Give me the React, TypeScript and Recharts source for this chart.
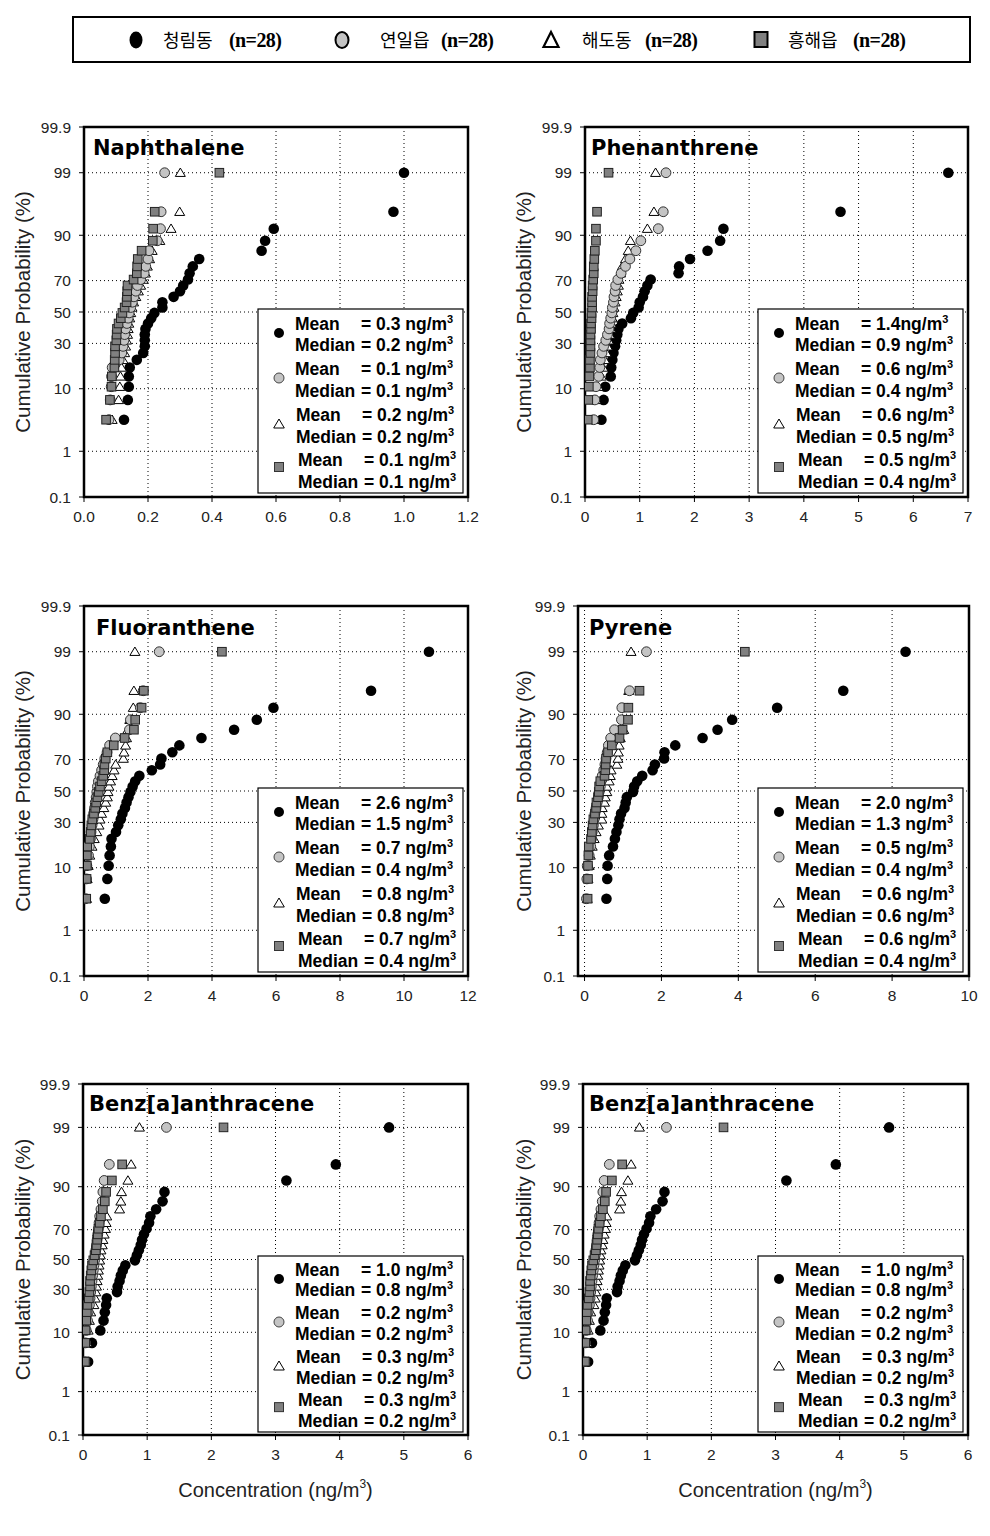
import React from 'react';
import { ScatterChart, Scatter, XAxis, YAxis, CartesianGrid, ReferenceArea } from 'recharts';

// cumulative probability (%) of each ranked observation (n = 28)
const PROB = [3.6, 7.1, 10.6, 14.1, 17.7, 21.2, 24.7, 28.3, 31.8, 35.3, 38.9, 42.4, 45.9, 49.4, 53.0, 56.5, 60.0, 63.6, 67.1, 70.6, 74.1, 77.7, 81.2, 84.7, 88.3, 91.8, 95.3, 99.0];

const Y_TICKS = [0.1, 1, 10, 30, 50, 70, 90, 99, 99.9];
const Y_TICK_LABELS = ['0.1', '1', '10', '30', '50', '70', '90', '99', '99.9'];

const SITES = ['청림동', '연일읍', '해도동', '흥해읍'];
const N_LABEL = '(n=28)';

// Naphthalene
const NAP_CR = [0.125, 0.137, 0.14, 0.14, 0.143, 0.165, 0.185, 0.19, 0.19, 0.19, 0.192, 0.2, 0.21, 0.22, 0.245, 0.245, 0.28, 0.3, 0.31, 0.325, 0.33, 0.34, 0.36, 0.555, 0.566, 0.593, 0.967, 1.0];
const NAP_YI = [0.078, 0.082, 0.085, 0.086, 0.088, 0.11, 0.118, 0.122, 0.125, 0.127, 0.13, 0.134, 0.138, 0.141, 0.146, 0.151, 0.156, 0.162, 0.167, 0.177, 0.188, 0.193, 0.2, 0.203, 0.229, 0.239, 0.241, 0.252];
const NAP_HD = [0.088, 0.108, 0.112, 0.114, 0.117, 0.122, 0.127, 0.13, 0.133, 0.136, 0.138, 0.14, 0.143, 0.146, 0.15, 0.155, 0.162, 0.17, 0.177, 0.185, 0.192, 0.198, 0.205, 0.213, 0.237, 0.272, 0.299, 0.301];
const NAP_HH = [0.069, 0.081, 0.086, 0.087, 0.095, 0.096, 0.097, 0.097, 0.101, 0.102, 0.103, 0.108, 0.115, 0.12, 0.127, 0.133, 0.134, 0.135, 0.136, 0.155, 0.165, 0.166, 0.168, 0.18, 0.215, 0.216, 0.221, 0.423];
const NAP_MEAN = ['0.3 ng/m', '0.1 ng/m', '0.2 ng/m', '0.1 ng/m'];
const NAP_MEDIAN = ['0.2 ng/m', '0.1 ng/m', '0.2 ng/m', '0.1 ng/m'];
const NAP_XTICKS = [0, 0.2, 0.4, 0.6, 0.8, 1.0, 1.2];

// Phenanthrene
const PHE_CR = [0.3, 0.34, 0.37, 0.47, 0.48, 0.5, 0.52, 0.55, 0.57, 0.59, 0.61, 0.68, 0.84, 0.88, 0.98, 1.0, 1.06, 1.09, 1.14, 1.2, 1.71, 1.72, 1.92, 2.24, 2.47, 2.53, 4.67, 6.64];
const PHE_YI = [0.16, 0.18, 0.2, 0.25, 0.27, 0.28, 0.31, 0.34, 0.38, 0.41, 0.44, 0.45, 0.47, 0.49, 0.5, 0.52, 0.53, 0.55, 0.56, 0.6, 0.66, 0.74, 0.82, 0.93, 1.02, 1.34, 1.43, 1.48];
const PHE_HD = [0.17, 0.2, 0.24, 0.3, 0.33, 0.36, 0.39, 0.41, 0.43, 0.45, 0.47, 0.48, 0.5, 0.51, 0.53, 0.55, 0.57, 0.59, 0.61, 0.62, 0.65, 0.68, 0.74, 0.79, 0.83, 1.14, 1.26, 1.29];
const PHE_HH = [0.05, 0.06, 0.07, 0.08, 0.09, 0.09, 0.1, 0.1, 0.1, 0.1, 0.11, 0.11, 0.12, 0.12, 0.13, 0.13, 0.13, 0.14, 0.14, 0.15, 0.16, 0.16, 0.17, 0.18, 0.2, 0.2, 0.22, 0.43];
const PHE_MEAN = ['1.4ng/m', '0.6 ng/m', '0.6 ng/m', '0.5 ng/m'];
const PHE_MEDIAN = ['0.9 ng/m', '0.4 ng/m', '0.5 ng/m', '0.4 ng/m'];
const PHE_XTICKS = [0, 1, 2, 3, 4, 5, 6, 7];

// Fluoranthene
const FLU_CR = [0.65, 0.73, 0.77, 0.8, 0.84, 0.86, 1.0, 1.07, 1.15, 1.2, 1.28, 1.33, 1.39, 1.45, 1.52, 1.6, 1.73, 2.12, 2.38, 2.42, 2.76, 2.98, 3.67, 4.69, 5.4, 5.92, 8.97, 10.78];
const FLU_YI = [0.05, 0.08, 0.09, 0.14, 0.17, 0.2, 0.22, 0.25, 0.28, 0.3, 0.33, 0.35, 0.38, 0.4, 0.42, 0.45, 0.5, 0.55, 0.6, 0.65, 0.72, 0.8, 0.98, 1.42, 1.45, 1.76, 1.85, 2.35];
const FLU_HD = [0.08, 0.1, 0.13, 0.18, 0.25, 0.32, 0.4, 0.47, 0.5, 0.55, 0.62, 0.68, 0.73, 0.75, 0.78, 0.83, 0.88, 0.94, 0.99, 1.23, 1.25, 1.3, 1.33, 1.37, 1.43, 1.54, 1.56, 1.59];
const FLU_HH = [0.07, 0.08, 0.09, 0.09, 0.1, 0.18, 0.21, 0.23, 0.26, 0.31, 0.35, 0.38, 0.42, 0.46, 0.5, 0.55, 0.6, 0.63, 0.64, 0.68, 0.73, 0.93, 1.27, 1.56, 1.6, 1.8, 1.87, 4.31];
const FLU_MEAN = ['2.6 ng/m', '0.7 ng/m', '0.8 ng/m', '0.7 ng/m'];
const FLU_MEDIAN = ['1.5 ng/m', '0.4 ng/m', '0.8 ng/m', '0.4 ng/m'];
const FLU_XTICKS = [0, 2, 4, 6, 8, 10, 12];

// Pyrene
const PYR_CR = [0.57, 0.59, 0.6, 0.64, 0.74, 0.79, 0.83, 0.88, 0.91, 0.95, 1.04, 1.07, 1.1, 1.26, 1.29, 1.37, 1.5, 1.77, 1.83, 2.07, 2.08, 2.36, 3.07, 3.46, 3.84, 5.01, 6.73, 8.35];
const PYR_YI = [0.05, 0.06, 0.07, 0.12, 0.16, 0.18, 0.2, 0.23, 0.25, 0.27, 0.3, 0.33, 0.36, 0.38, 0.41, 0.43, 0.46, 0.5, 0.53, 0.56, 0.59, 0.62, 0.68, 0.78, 0.96, 0.97, 1.17, 1.61];
const PYR_HD = [0.07, 0.09, 0.12, 0.15, 0.2, 0.25, 0.3, 0.36, 0.45, 0.45, 0.46, 0.52, 0.54, 0.58, 0.58, 0.64, 0.67, 0.69, 0.84, 0.87, 0.88, 0.9, 0.93, 1.02, 1.1, 1.12, 1.15, 1.21];
const PYR_HH = [0.08, 0.09, 0.09, 0.1, 0.11, 0.17, 0.19, 0.21, 0.23, 0.27, 0.3, 0.31, 0.35, 0.37, 0.38, 0.41, 0.52, 0.54, 0.55, 0.56, 0.61, 0.71, 0.91, 0.99, 1.13, 1.14, 1.43, 4.17];
const PYR_MEAN = ['2.0 ng/m', '0.5 ng/m', '0.6 ng/m', '0.6 ng/m'];
const PYR_MEDIAN = ['1.3 ng/m', '0.4 ng/m', '0.6 ng/m', '0.4 ng/m'];
const PYR_XTICKS = [0, 2, 4, 6, 8, 10];

// Benz[a]anthracene
const BAA_CR = [0.08, 0.14, 0.27, 0.32, 0.34, 0.36, 0.37, 0.53, 0.54, 0.57, 0.59, 0.62, 0.66, 0.81, 0.84, 0.87, 0.9, 0.92, 0.95, 0.99, 1.03, 1.05, 1.14, 1.24, 1.27, 3.17, 3.94, 4.77];
const BAA_YI = [0.03, 0.04, 0.05, 0.07, 0.08, 0.1, 0.11, 0.12, 0.13, 0.14, 0.15, 0.16, 0.17, 0.18, 0.19, 0.2, 0.21, 0.22, 0.23, 0.24, 0.25, 0.26, 0.28, 0.3, 0.31, 0.33, 0.41, 1.3];
const BAA_HD = [0.04, 0.06, 0.08, 0.1, 0.12, 0.17, 0.19, 0.2, 0.21, 0.22, 0.23, 0.24, 0.25, 0.26, 0.27, 0.28, 0.3, 0.31, 0.33, 0.35, 0.36, 0.37, 0.57, 0.59, 0.6, 0.7, 0.75, 0.88];
const BAA_HH = [0.03, 0.035, 0.04, 0.05, 0.06, 0.07, 0.09, 0.1, 0.11, 0.11, 0.12, 0.13, 0.14, 0.16, 0.18, 0.2, 0.21, 0.22, 0.23, 0.24, 0.26, 0.28, 0.31, 0.34, 0.36, 0.45, 0.61, 2.19];
const BAA_MEAN = ['1.0 ng/m', '0.2 ng/m', '0.3 ng/m', '0.3 ng/m'];
const BAA_MEDIAN = ['0.8 ng/m', '0.2 ng/m', '0.2 ng/m', '0.2 ng/m'];
const BAA_XTICKS = [0, 1, 2, 3, 4, 5, 6];

// inverse standard normal CDF (probability-scale transform)
function probit(p: number): number {
  const a = [-3.969683028665376e1, 2.209460984245205e2, -2.759285104469687e2, 1.38357751867269e2, -3.066479806614716e1, 2.506628277459239];
  const b = [-5.447609879822406e1, 1.615858368580409e2, -1.556989798598866e2, 6.680131188771972e1, -1.328068155288572e1];
  const c = [-7.784894002430293e-3, -3.223964580411365e-1, -2.400758277161838, -2.549671303460123, 4.374664141464968, 2.938163982698783];
  const d = [7.784695709041462e-3, 3.224671290700398e-1, 2.445134137142996, 3.754408661907416];
  const plow = 0.02425;
  if (p < plow) {
    const q = Math.sqrt(-2 * Math.log(p));
    return (((((c[0] * q + c[1]) * q + c[2]) * q + c[3]) * q + c[4]) * q + c[5]) / ((((d[0] * q + d[1]) * q + d[2]) * q + d[3]) * q + 1);
  }
  if (p <= 1 - plow) {
    const q = p - 0.5;
    const r = q * q;
    return ((((((a[0] * r + a[1]) * r + a[2]) * r + a[3]) * r + a[4]) * r + a[5]) * q) / (((((b[0] * r + b[1]) * r + b[2]) * r + b[3]) * r + b[4]) * r + 1);
  }
  const q = Math.sqrt(-2 * Math.log(1 - p));
  return -(((((c[0] * q + c[1]) * q + c[2]) * q + c[3]) * q + c[4]) * q + c[5]) / ((((d[0] * q + d[1]) * q + d[2]) * q + d[3]) * q + 1);
}

const Y_TICK_Z = Y_TICKS.map((t) => probit(t / 100));
const Z_MIN = Y_TICK_Z[0];
const Z_MAX = Y_TICK_Z[Y_TICK_Z.length - 1];

function fmtY(v: number): string {
  let best = 0;
  for (let i = 0; i < Y_TICK_Z.length; i++) {
    if (Math.abs(Y_TICK_Z[i] - v) < Math.abs(Y_TICK_Z[best] - v)) best = i;
  }
  return Y_TICK_LABELS[best];
}

const SANS = '"Liberation Sans", Arial, Helvetica, sans-serif';

// marker shapes
const ShapeBlack = (p: any) => <circle cx={p.cx} cy={p.cy} r={5.3} fill="#000" />;
const ShapeGray = (p: any) => <circle cx={p.cx} cy={p.cy} r={4.9} fill="#c4c4c4" stroke="#333" strokeWidth={1} />;
const ShapeTri = (p: any) => (
  <path d={`M${p.cx},${p.cy - 4.7} L${p.cx + 5},${p.cy + 3.7} L${p.cx - 5},${p.cy + 3.7} Z`} fill="#fff" stroke="#000" strokeWidth={1} />
);
const ShapeSq = (p: any) => <rect x={p.cx - 4.3} y={p.cy - 4.3} width={8.6} height={8.6} fill="#808080" stroke="#222" strokeWidth={1} />;

// site index -> marker shape
const SITE_SHAPES = [ShapeBlack, ShapeGray, ShapeTri, ShapeSq];
// draw order: 청림동, 해도동, 연일읍, 흥해읍
const ORDER = [0, 2, 1, 3];

type PanelCfg = {
  title: string;
  left: number;
  top: number;
  w: number;
  h: number;
  xMin: number;
  xMax: number;
  xTicks: number[];
  xFmt: (v: number) => string;
  series: number[][];
  mean: string[];
  median: string[];
  titleDx: number;
  titleDy: number;
  box: { x: number; y: number; s: number };
  col: number;
  showXLabel: boolean;
};

const fmt1 = (v: number) => v.toFixed(1);
const fmt0 = (v: number) => String(v);

const PANELS: PanelCfg[] = [
  { title: 'Naphthalene', left: 84, top: 127, w: 384, h: 370, xMin: 0, xMax: 1.2, xTicks: NAP_XTICKS, xFmt: fmt1, series: [NAP_CR, NAP_YI, NAP_HD, NAP_HH], mean: NAP_MEAN, median: NAP_MEDIAN, titleDx: 9, titleDy: 28, box: { x: 258, y: 309, s: 1 }, col: 0, showXLabel: false },
  { title: 'Phenanthrene', left: 585, top: 127, w: 383, h: 370, xMin: 0, xMax: 7, xTicks: PHE_XTICKS, xFmt: fmt0, series: [PHE_CR, PHE_YI, PHE_HD, PHE_HH], mean: PHE_MEAN, median: PHE_MEDIAN, titleDx: 6, titleDy: 28, box: { x: 758, y: 309, s: 1 }, col: 1, showXLabel: false },
  { title: 'Fluoranthene', left: 84, top: 606, w: 384, h: 370, xMin: 0, xMax: 12, xTicks: FLU_XTICKS, xFmt: fmt0, series: [FLU_CR, FLU_YI, FLU_HD, FLU_HH], mean: FLU_MEAN, median: FLU_MEDIAN, titleDx: 12, titleDy: 29, box: { x: 258, y: 788, s: 1 }, col: 0, showXLabel: false },
  { title: 'Pyrene', left: 578, top: 606, w: 391, h: 370, xMin: -0.17, xMax: 10, xTicks: PYR_XTICKS, xFmt: fmt0, series: [PYR_CR, PYR_YI, PYR_HD, PYR_HH], mean: PYR_MEAN, median: PYR_MEDIAN, titleDx: 11, titleDy: 29, box: { x: 758, y: 788, s: 1 }, col: 1, showXLabel: false },
  { title: 'Benz[a]anthracene', left: 83, top: 1084, w: 385, h: 351, xMin: 0, xMax: 6, xTicks: BAA_XTICKS, xFmt: fmt0, series: [BAA_CR, BAA_YI, BAA_HD, BAA_HH], mean: BAA_MEAN, median: BAA_MEDIAN, titleDx: 6, titleDy: 27, box: { x: 258, y: 1256, s: 176 / 184 }, col: 0, showXLabel: true },
  { title: 'Benz[a]anthracene', left: 583, top: 1084, w: 385, h: 351, xMin: 0, xMax: 6, xTicks: BAA_XTICKS, xFmt: fmt0, series: [BAA_CR, BAA_YI, BAA_HD, BAA_HH], mean: BAA_MEAN, median: BAA_MEDIAN, titleDx: 6, titleDy: 27, box: { x: 758, y: 1256, s: 176 / 184 }, col: 1, showXLabel: true },
];

const Y_LABEL_X = [22, 523];

function Panel({ p }: { p: PanelCfg }) {
  const chartW = p.w + 84 + 20;
  const chartH = p.h + 20 + 45;
  return (
    <div style={{ position: 'absolute', left: p.left - 84, top: p.top - 20, width: chartW, height: chartH }}>
      <ScatterChart width={chartW} height={chartH} margin={{ top: 20, right: 20, bottom: 15, left: 0 }}>
        <CartesianGrid stroke="#000" strokeDasharray="1 3" strokeWidth={1} />
        <XAxis
          type="number"
          dataKey="x"
          domain={[p.xMin, p.xMax]}
          ticks={p.xTicks}
          tickFormatter={p.xFmt}
          interval={0}
          height={30}
          allowDataOverflow
          axisLine={false}
          tickLine={{ stroke: '#000' }}
          tickSize={5}
          tickMargin={9}
          tick={{ fill: '#222', fontSize: 15.5, fontFamily: SANS }}
        />
        <YAxis
          type="number"
          dataKey="y"
          domain={[Z_MIN, Z_MAX]}
          ticks={Y_TICK_Z}
          tickFormatter={fmtY}
          interval={0}
          width={84}
          allowDataOverflow
          axisLine={false}
          tickLine={{ stroke: '#000' }}
          tickSize={5}
          tickMargin={8}
          tick={{ fill: '#222', fontSize: 15.5, fontFamily: SANS }}
        />
        {ORDER.map((k) => (
          <Scatter
            key={k}
            name={SITES[k]}
            data={PROB.map((pr, i) => ({ x: p.series[k][i], y: probit(pr / 100) }))}
            shape={SITE_SHAPES[k]}
            isAnimationActive={false}
          />
        ))}
        <ReferenceArea x1={p.xMin} x2={p.xMax} y1={Z_MIN} y2={Z_MAX} fill="none" fillOpacity={0} stroke="#000" strokeWidth={2.5} ifOverflow="visible" />
      </ScatterChart>
    </div>
  );
}

function StatMarker({ k, x, y }: { k: number; x: number; y: number }) {
  if (k === 0) return <circle cx={x} cy={y} r={5} fill="#000" />;
  if (k === 1) return <circle cx={x} cy={y} r={5} fill="#c4c4c4" stroke="#444" strokeWidth={1} />;
  if (k === 2) return <path d={`M${x},${y - 5} L${x + 5.3},${y + 4} L${x - 5.3},${y + 4} Z`} fill="#fff" stroke="#000" strokeWidth={1} />;
  return <rect x={x - 4.5} y={y - 4.5} width={9} height={9} fill="#808080" stroke="#333" strokeWidth={1} />;
}

const MARKER_Y = [24, 69, 115, 158];
const LINE_Y = [14, 35, 59, 81, 105, 127, 150, 172];
const GROUP_DX = [0, 0, 1, 3];

function StatsBox({ p }: { p: PanelCfg }) {
  const { x, y, s } = p.box;
  const txt = { fontFamily: SANS, fontWeight: 700, fontSize: 17.5, fill: '#000' } as const;
  return (
    <g>
      <rect x={x} y={y} width={205} height={184 * s} fill="#fff" stroke="#000" strokeWidth={1.2} />
      {[0, 1, 2, 3].map((k) => (
        <g key={k}>
          <StatMarker k={k} x={x + 21} y={y + MARKER_Y[k] * s} />
          <text x={x + 37 + GROUP_DX[k]} y={y + LINE_Y[2 * k] * s + 6.5} {...txt}>Mean</text>
          <text x={x + 103 + GROUP_DX[k]} y={y + LINE_Y[2 * k] * s + 6.5} {...txt}>
            {'= ' + p.mean[k]}
            <tspan dy={-7} fontSize={11}>3</tspan>
          </text>
          <text x={x + 37 + GROUP_DX[k]} y={y + LINE_Y[2 * k + 1] * s + 6.5} {...txt}>Median</text>
          <text x={x + 103 + GROUP_DX[k]} y={y + LINE_Y[2 * k + 1] * s + 6.5} {...txt}>
            {'= ' + p.median[k]}
            <tspan dy={-7} fontSize={11}>3</tspan>
          </text>
        </g>
      ))}
    </g>
  );
}

const LEG_MARK_X = [136, 342, 551, 761];
const LEG_SITE_X = [163, 380, 582, 788];
const LEG_N_X = [229, 441, 645, 853];

function Legend() {
  return (
    <g>
      <rect x={73} y={17} width={897} height={45} fill="#fff" stroke="#000" strokeWidth={2} />
      <ellipse cx={LEG_MARK_X[0]} cy={40} rx={6.5} ry={8.5} fill="#000" />
      <ellipse cx={LEG_MARK_X[1]} cy={40} rx={6.5} ry={8} fill="#c4c4c4" stroke="#000" strokeWidth={2} />
      <path d={`M${LEG_MARK_X[2]},${32} L${LEG_MARK_X[2] + 7.5},${47} L${LEG_MARK_X[2] - 7.5},${47} Z`} fill="#fff" stroke="#000" strokeWidth={2.2} />
      <rect x={LEG_MARK_X[3] - 6.5} y={32} width={13} height={15} fill="#808080" stroke="#000" strokeWidth={2} />
      {SITES.map((s, i) => (
        <g key={s}>
          <text x={LEG_SITE_X[i]} y={47} fontFamily='"Noto Sans CJK KR", sans-serif' fontSize={18} fill="#000">{s}</text>
          <text x={LEG_N_X[i]} y={47} fontFamily='"Liberation Serif", "Times New Roman", serif' fontWeight={700} fontSize={20} letterSpacing={-0.6} fill="#000">{N_LABEL}</text>
        </g>
      ))}
    </g>
  );
}

export default function App() {
  return (
    <div style={{ position: 'absolute', left: 0, top: 0, width: 990, height: 1536, background: '#fff', overflow: 'hidden' }}>
      {PANELS.map((p, i) => (
        <Panel key={i} p={p} />
      ))}
      <svg width={990} height={1536} style={{ position: 'absolute', left: 0, top: 0, pointerEvents: 'none' }}>
        <Legend />
        {PANELS.map((p, i) => (
          <g key={i}>
            <text x={p.left + p.titleDx} y={p.top + p.titleDy} fontFamily='"DejaVu Sans", Verdana, sans-serif' fontWeight={700} fontSize={21} fill="#000">
              {p.title}
            </text>
            <text
              x={Y_LABEL_X[p.col]}
              y={p.top + p.h / 2}
              transform={`rotate(-90 ${Y_LABEL_X[p.col]} ${p.top + p.h / 2})`}
              textAnchor="middle"
              dominantBaseline="central"
              fontFamily={SANS}
              fontSize={20.5}
              fill="#222"
            >
              Cumulative Probability (%)
            </text>
            {p.showXLabel && (
              <text x={p.left + p.w / 2} y={1497} textAnchor="middle" fontFamily={SANS} fontSize={20} fill="#222">
                Concentration (ng/m<tspan dy={-9} fontSize={12}>3</tspan><tspan dy={9}>)</tspan>
              </text>
            )}
            <StatsBox p={p} />
          </g>
        ))}
      </svg>
    </div>
  );
}
